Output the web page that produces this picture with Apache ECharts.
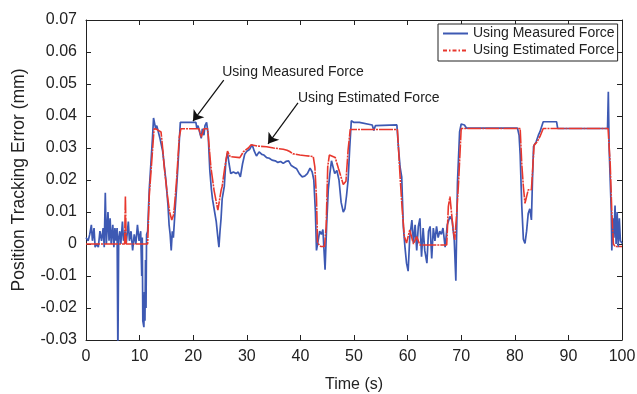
<!DOCTYPE html>
<html><head><meta charset="utf-8">
<script src="https://cdn.jsdelivr.net/npm/echarts@6/dist/echarts.min.js"></script>
<style>html,body{margin:0;padding:0;background:#fff}#c{width:637px;height:394px}</style>
</head><body><div id="c"></div>
<script>
// Measured force (blue) — time (s) and error (mm)
const measuredT = [0,0.4,0.7,1.0,1.2,1.5,1.7,2.0,2.3,2.6,2.9,3.2,3.4,3.6,3.8,4.1,4.3,4.5,4.7,5.0,5.2,5.4,5.6,5.8,5.95,6.1,6.3,6.5,6.8,7.0,7.3,7.5,7.9,8.1,8.4,8.7,9.0,9.3,9.6,9.9,10.2,10.4,10.5,10.6,10.8,10.9,11.0,11.1,11.2,11.3,11.5,11.8,12.1,12.4,12.6,12.8,13.0,13.2,13.5,13.8,14.3,14.9,15.3,15.5,15.7,15.9,16.1,16.3,16.6,16.8,17.1,17.4,17.6,17.8,20.5,20.7,20.9,21.2,21.5,21.7,22.0,22.2,22.5,22.8,23.1,23.4,23.6,24.0,24.3,24.6,24.8,25.0,25.2,25.4,25.8,26.1,26.4,26.7,27.0,27.5,28.0,28.4,28.8,29.2,29.6,30.0,30.5,31.0,31.4,31.8,32.3,32.8,33.2,33.7,34.2,34.7,35.3,35.8,36.3,36.8,37.3,37.8,38.3,38.8,39.3,39.8,40.3,40.8,41.3,41.8,42.2,42.5,42.8,43.0,43.3,43.6,43.9,44.2,44.6,44.9,45.2,45.5,45.8,46.1,46.4,46.8,47.2,47.6,48.0,48.3,48.6,48.9,49.2,49.5,50.0,51.0,51.3,53.4,53.7,54.0,58.0,58.3,58.6,58.9,59.2,59.5,59.8,60.1,60.4,60.8,61.1,61.4,61.7,62.0,62.3,62.6,62.9,63.2,63.6,63.9,64.2,64.5,64.8,65.1,65.4,65.7,66.0,66.3,66.6,67.0,67.4,67.9,68.3,68.7,69.0,69.3,69.7,70.0,70.6,71.0,80.5,80.8,81.0,81.3,81.6,81.9,82.2,82.5,82.8,83.1,83.3,83.5,84.0,84.4,84.7,85.0,85.3,87.8,88.0,97.3,97.45,97.6,97.8,98.0,98.1,98.3,98.5,98.7,98.9,99.1,99.3,99.5,99.7,100];
const measuredV = [0.002,0.001,0.003,0.006,0.001,0.005,-0.001,0.000,-0.001,0.004,0.001,0.005,-0.001,0.016,0.000,0.010,0.001,0.008,0.000,0.006,-0.001,0.005,0.001,0.005,-0.035,0.002,0.004,0.000,0.007,0.001,0.004,0.000,0.007,0.001,0.004,-0.002,0.003,0.000,0.006,0.001,0.004,-0.010,0.002,-0.024,-0.026,-0.015,-0.024,-0.005,-0.020,0.003,0.004,0.017,0.025,0.033,0.0394,0.039,0.036,0.037,0.035,0.033,0.029,0.020,0.012,0.006,0.003,-0.002,0.004,0.002,0.010,0.015,0.023,0.032,0.038,0.038,0.038,0.036,0.037,0.035,0.033,0.036,0.034,0.037,0.038,0.034,0.023,0.017,0.014,0.010,0.007,0.002,-0.001,0.004,0.008,0.014,0.018,0.026,0.0285,0.025,0.022,0.0225,0.022,0.0225,0.021,0.025,0.028,0.029,0.0295,0.031,0.029,0.0275,0.0288,0.028,0.0278,0.027,0.0268,0.0262,0.026,0.0255,0.0258,0.0252,0.0258,0.026,0.0245,0.024,0.0235,0.022,0.021,0.0212,0.022,0.0237,0.0225,0.020,0.010,-0.002,0.001,0.004,0.003,0.0045,-0.008,0.006,0.017,0.022,0.026,0.0262,0.022,0.023,0.020,0.013,0.010,0.011,0.015,0.020,0.030,0.0385,0.038,0.038,0.0374,0.0372,0.0355,0.037,0.0372,0.030,0.024,0.021,0.0055,-0.0008,-0.006,-0.0085,0.002,0.0075,0.0003,0.006,-0.002,0.0055,0.008,-0.004,0.005,-0.002,-0.006,0.004,0.0055,-0.0045,0.005,0.001,0.0055,0.002,0.004,0.003,0.005,-0.001,0.006,0.0086,0.0075,0.0013,-0.0115,0.019,0.035,0.0375,0.0372,0.0362,0.0362,0.034,0.028,0.012,0.0015,0.0002,0.004,0.0095,0.011,0.0075,0.020,0.0305,0.032,0.034,0.0351,0.035,0.0382,0.0382,0.0361,0.0361,0.0476,0.030,0.020,0.010,-0.002,0.008,0.002,0.012,0.000,0.010,-0.001,0.008,0.001,0.0002];

// Estimated force (red)
const estimatedT = [0,7.2,7.35,7.5,11.5,11.8,12.1,12.4,12.7,13.1,14.0,14.3,14.6,15.2,15.6,16.0,16.3,16.5,16.9,17.4,17.7,21.1,21.3,21.5,21.8,22.0,22.7,23.0,23.3,23.9,24.6,25.2,25.4,25.9,26.4,26.9,28.7,29.4,30.3,30.8,32.0,33.7,35.0,36.8,37.5,38.0,38.6,39.9,41.0,42.4,42.7,43.0,43.2,43.8,44.5,44.8,45.1,45.4,46.5,47.1,48.0,48.5,48.9,49.3,58.1,58.6,59.0,59.4,59.8,60.4,61.1,61.7,62.3,67.3,67.6,67.9,68.2,68.5,68.8,69.2,69.5,70.0,81.0,81.3,81.6,81.9,82.5,83.1,83.6,84.2,84.7,85.3,97.4,97.8,98.1,98.4,98.7,100];
const estimatedV = [0.000,0.000,0.015,0.000,0.000,0.015,0.022,0.029,0.036,0.0359,0.035,0.030,0.024,0.015,0.010,0.0075,0.009,0.0117,0.020,0.0334,0.036,0.036,0.0345,0.0334,0.034,0.036,0.036,0.030,0.024,0.0167,0.0106,0.0167,0.018,0.024,0.029,0.0273,0.027,0.0289,0.030,0.031,0.0306,0.0304,0.030,0.0296,0.0293,0.0289,0.0282,0.0278,0.0276,0.0273,0.024,0.0144,0.0003,-0.0008,-0.0008,0.0054,0.0242,0.0278,0.027,0.0236,0.0186,0.0196,0.0294,0.0358,0.0358,0.021,0.0106,0.0023,0.0003,0.0044,0.000,0.0023,-0.0003,-0.0003,0.0117,0.0148,0.0096,0.0044,0.0013,0.0106,0.019,0.0361,0.0361,0.025,0.0179,0.0127,0.0169,0.017,0.0309,0.032,0.0336,0.0361,0.0361,0.025,0.010,0.000,-0.0008,-0.0008];

const seriesNames = ['Using Measured Force', 'Using Estimated Force'];
const xTickRange = [0, 100, 10];
const yTickRange = [-0.03, 0.07, 0.01];
// annotations: [text, textT, textV, arrowStartT, arrowStartV, arrowTipT, arrowTipV]
const annotations = [
  ['Using Measured Force', 25.4, 0.0537, 25.7, 0.0512, 19.96, 0.0384],
  ['Using Estimated Force', 39.55, 0.0456, 39.55, 0.0441, 33.96, 0.0313]
];

const FONT = '"Liberation Sans", Arial, Helvetica, sans-serif';
const measured = measuredT.map((t, i) => [t, measuredV[i]]);
const estimated = estimatedT.map((t, i) => [t, estimatedV[i]]);
const yFmt = v => Math.abs(v) < 1e-9 ? '0' : (Math.round(v * 100) / 100).toFixed(2);

const chart = echarts.init(document.getElementById('c'), null, {renderer: 'canvas'});
const axisLine = {show: true, onZero: false, lineStyle: {color: '#222', width: 1}};
const tick = {show: true, inside: true, length: 5, lineStyle: {color: '#222'}};
const xBase = {type: 'value', min: xTickRange[0], max: xTickRange[1], interval: xTickRange[2], splitLine: {show: false}, axisLine, axisTick: tick};
const yBase = {type: 'value', min: yTickRange[0], max: yTickRange[1], interval: yTickRange[2], splitLine: {show: false}, axisLine, axisTick: tick};

chart.setOption({
  animation: false,
  backgroundColor: '#fff',
  grid: {left: 86, right: 15, top: 20, bottom: 54, containLabel: false, outerBoundsMode: 'none'},
  xAxis: [
    Object.assign({}, xBase, {position: 'bottom', name: 'Time (s)', nameLocation: 'middle', nameGap: 37,
      nameTextStyle: {fontFamily: FONT, fontSize: 16, color: '#222'},
      axisLabel: {fontFamily: FONT, fontSize: 16, color: '#222', margin: 9}}),
    Object.assign({}, xBase, {position: 'top', axisLabel: {show: false}})
  ],
  yAxis: [
    Object.assign({}, yBase, {position: 'left', name: 'Position Tracking Error (mm)', nameLocation: 'middle', nameGap: 58,
      nameTextStyle: {fontFamily: FONT, fontSize: 17.5, color: '#222'},
      axisLabel: {fontFamily: FONT, fontSize: 16, color: '#222', margin: 9, formatter: yFmt}}),
    Object.assign({}, yBase, {position: 'right', axisLabel: {show: false}})
  ],
  legend: {
    left: 438, top: 24, orient: 'vertical', itemGap: 2, itemWidth: 25, itemHeight: 10,
    padding: [2, 3, 3, 4], borderColor: '#222', borderWidth: 1, backgroundColor: '#fff',
    itemStyle: {opacity: 0, color: 'transparent', borderColor: 'transparent', borderWidth: 0},
    textStyle: {fontFamily: FONT, fontSize: 14, color: '#222', lineHeight: 15},
    data: [
      {name: seriesNames[0]},
      {name: seriesNames[1], lineStyle: {type: [4, 2, 1.5, 2]}}
    ]
  },
  series: [
    {
      name: seriesNames[0], type: 'line', data: measured, showSymbol: false, symbol: 'none',
      lineStyle: {color: '#3d59b3', width: 1.7}, itemStyle: {color: '#3d59b3'}, z: 2,
      markLine: {
        silent: true, symbol: ['none', 'arrow'], symbolSize: 10, label: {show: false},
        lineStyle: {color: '#111', width: 1.2, type: 'solid'},
        data: annotations.map(a => [{coord: [a[3], a[4]], symbol: 'none'}, {coord: [a[5], a[6]], symbol: 'arrow', symbolSize: 10}])
      }
    },
    {
      name: seriesNames[1], type: 'line', data: estimated, showSymbol: false, symbol: 'none',
      lineStyle: {color: '#e8372d', width: 1.6, type: [14, 1, 2, 1]}, itemStyle: {color: '#e8372d'}, z: 3
    }
  ]
});

const g = annotations.map(a => {
  const p = chart.convertToPixel({xAxisIndex: 0, yAxisIndex: 0}, [a[1], a[2]]);
  return {type: 'text', x: p[0], y: p[1], z: 10,
    style: {text: a[0], font: '14px ' + FONT, fill: '#222', align: 'left', verticalAlign: 'middle',
            textAlign: 'left', textVerticalAlign: 'middle'}};
});
chart.setOption({graphic: g});
</script>
</body></html>
